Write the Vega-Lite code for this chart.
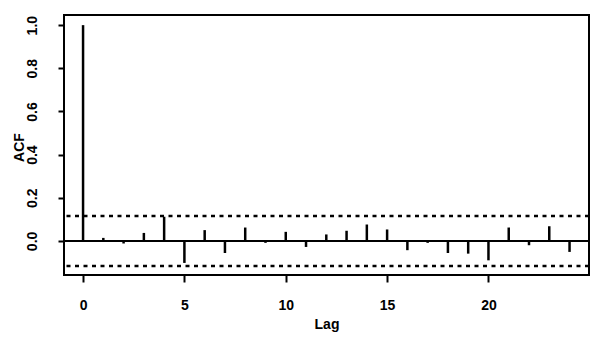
{
  "$schema": "https://vega.github.io/schema/vega-lite/v6.json",
  "width": 525,
  "height": 260,
  "autosize": {"type": "none"},
  "padding": {"left": 64, "top": 15, "right": 8, "bottom": 75},
  "background": "white",
  "config": {
    "view": {"stroke": "black", "strokeWidth": 2},
    "axis": {
      "grid": false,
      "domain": false,
      "tickColor": "black",
      "tickWidth": 2,
      "labelColor": "black",
      "titleColor": "black",
      "labelFont": "Liberation Sans",
      "titleFont": "Liberation Sans",
      "labelFontWeight": "bold",
      "titleFontWeight": "bold",
      "labelFontSize": 14,
      "titleFontSize": 14
    }
  },
  "datasets": {
    "acf": [
      {"lag": 0, "acf": 1.0},
      {"lag": 1, "acf": 0.014},
      {"lag": 2, "acf": -0.012},
      {"lag": 3, "acf": 0.037},
      {"lag": 4, "acf": 0.112},
      {"lag": 5, "acf": -0.102},
      {"lag": 6, "acf": 0.05},
      {"lag": 7, "acf": -0.056},
      {"lag": 8, "acf": 0.062},
      {"lag": 9, "acf": -0.009},
      {"lag": 10, "acf": 0.042},
      {"lag": 11, "acf": -0.028},
      {"lag": 12, "acf": 0.03},
      {"lag": 13, "acf": 0.047},
      {"lag": 14, "acf": 0.076},
      {"lag": 15, "acf": 0.053},
      {"lag": 16, "acf": -0.043},
      {"lag": 17, "acf": -0.009},
      {"lag": 18, "acf": -0.056},
      {"lag": 19, "acf": -0.059},
      {"lag": 20, "acf": -0.09},
      {"lag": 21, "acf": 0.062},
      {"lag": 22, "acf": -0.02},
      {"lag": 23, "acf": 0.068},
      {"lag": 24, "acf": -0.051}
    ],
    "bounds": [
      {"ci": 0.116},
      {"ci": -0.116}
    ],
    "zero": [
      {"z": 0}
    ]
  },
  "layer": [
    {
      "data": {"name": "zero"},
      "mark": {"type": "rule", "color": "black", "strokeWidth": 2},
      "encoding": {
        "y": {"field": "z", "type": "quantitative", "scale": {"domain": [-0.158, 1.047], "nice": false, "zero": false}}
      }
    },
    {
      "data": {"name": "bounds"},
      "mark": {"type": "rule", "color": "black", "strokeWidth": 2.5, "strokeDash": [4, 4.5]},
      "encoding": {
        "y": {"field": "ci", "type": "quantitative"}
      }
    },
    {
      "data": {"name": "acf"},
      "mark": {"type": "rule", "color": "black", "strokeWidth": 2.5},
      "encoding": {
        "x": {
          "field": "lag", "type": "quantitative",
          "scale": {"domain": [-0.94, 24.96], "nice": false, "zero": false},
          "axis": {
            "values": [0, 5, 10, 15, 20],
            "tickSize": 7,
            "labelBaseline": "alphabetic",
            "labelPadding": 27,
            "title": "Lag",
            "titleBaseline": "alphabetic",
            "titleY": 53
          }
        },
        "y": {
          "field": "acf", "type": "quantitative",
          "axis": {
            "values": [0, 0.2, 0.4, 0.6, 0.8, 1.0],
            "format": ".1f",
            "tickSize": 6,
            "labelAngle": 270,
            "labelAlign": "center",
            "labelBaseline": "alphabetic",
            "labelPadding": 22,
            "title": "ACF",
            "titleAngle": 270,
            "titleAlign": "center",
            "titleBaseline": "alphabetic",
            "titleX": -41,
            "titleY": 132
          }
        },
        "y2": {"datum": 0}
      }
    }
  ]
}
